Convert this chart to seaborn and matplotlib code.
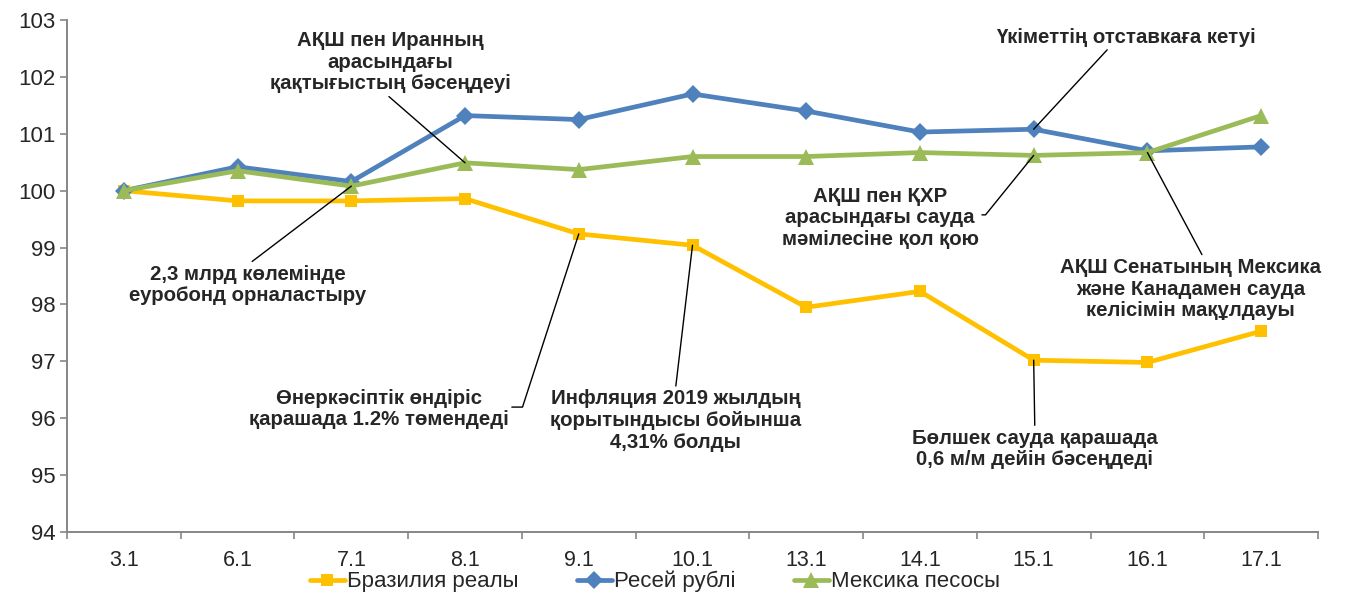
import numpy as np
import pandas as pd
import matplotlib
matplotlib.use("Agg")
import matplotlib.pyplot as plt
import seaborn as sns

dates = ["3.1", "6.1", "7.1", "8.1", "9.1", "10.1", "13.1", "14.1", "15.1", "16.1", "17.1"]
brazil = [100.0, 99.82, 99.82, 99.86, 99.24, 99.04, 97.95, 98.23, 97.02, 96.98, 97.53]
russia = [100.0, 100.42, 100.16, 101.32, 101.25, 101.70, 101.40, 101.03, 101.08, 100.70, 100.77]
mexico = [100.0, 100.35, 100.08, 100.49, 100.37, 100.60, 100.60, 100.67, 100.62, 100.67, 101.32]
series_names = ["Бразилия реалы", "Ресей рублі", "Мексика песосы"]
y_ticks = [94, 95, 96, 97, 98, 99, 100, 101, 102, 103]

colors = {"Бразилия реалы": "#FFC000", "Ресей рублі": "#4F81BD", "Мексика песосы": "#9BBB59"}
markers = {"Бразилия реалы": "s", "Ресей рублі": "D", "Мексика песосы": "^"}
msizes = {"Бразилия реалы": 9, "Ресей рублі": 9.5, "Мексика песосы": 12}

sns.set_theme(style="white")
plt.rcParams['font.family'] = ['Liberation Sans', 'DejaVu Sans']

rows = []
for name, vals in zip(series_names, [brazil, russia, mexico]):
    for i, v in enumerate(vals):
        rows.append({"idx": i, "value": v, "series": name})
df = pd.DataFrame(rows)

fig = plt.figure(figsize=(13.57, 5.94), dpi=100)
ax = fig.add_axes([67/1357, 1 - 532/594, (1318-67)/1357, (532-20)/594])

sns.lineplot(data=df, x="idx", y="value", hue="series", style="series",
             markers=markers, dashes=False, palette=colors, hue_order=series_names,
             style_order=series_names, linewidth=3.4, markersize=9, markeredgewidth=0,
             ax=ax, legend=True)

for line, name in zip(ax.lines[:3], series_names):
    line.set_markersize(msizes[name])

ax.set_xlim(-0.5, len(dates) - 0.5)
ax.set_ylim(94, 103)
ax.set_yticks(y_ticks)
ax.set_yticklabels([str(t) for t in y_ticks], fontsize=16)
ax.set_xticks(np.arange(-0.5, len(dates) + 0.5, 1.0))
ax.set_xticklabels([])
ax.set_xticks(np.arange(len(dates)), minor=True)
ax.set_xticklabels(dates, minor=True, fontsize=15.5)
ax.tick_params(axis="x", which="major", length=5, width=1.2, color="#868686", direction="out", bottom=True)
ax.tick_params(axis="x", which="minor", length=0, pad=13)
ax.tick_params(axis="y", length=5, width=1.2, color="#868686", direction="out", left=True, pad=3)
ax.set_xlabel("")
ax.set_ylabel("")
for s in ["top", "right"]:
    ax.spines[s].set_visible(False)
for s in ["left", "bottom"]:
    ax.spines[s].set_color("#868686")
    ax.spines[s].set_linewidth(1.4)

handles, labels = ax.get_legend_handles_labels()
for h, name in zip(handles, labels):
    h.set_markersize(msizes[name])
    h.set_linewidth(3.4)
leg = ax.legend(handles, labels, loc="center", bbox_to_anchor=(0.47, -0.097), ncol=3,
                frameon=False, fontsize=16, handlelength=1.6, handletextpad=0.1,
                columnspacing=2.6, borderaxespad=0)

fs = 14.7
lp = dict(arrowstyle="-", color="black", lw=1.0, shrinkA=0, shrinkB=0)

def note(text, xi, yv, tx, ty, relpos, conn="arc3"):
    ax.annotate(text, xy=(xi, yv), xytext=(tx, ty), textcoords="data",
                ha="center", va="center", fontsize=fs, fontweight="bold",
                linespacing=1.18,
                arrowprops=dict(lp, relpos=relpos, connectionstyle=conn))

note("АҚШ пен Иранның\nарасындағы\nқақтығыстың бәсеңдеуі", 3, mexico[3], 2.34, 102.26, (0.48, 0.0))
note("2,3 млрд көлемінде\nеуробонд орналастыру", 2, mexico[2], 1.09, 98.34, (0.5, 1.0))
note("Өнеркәсіптік өндіріс\nқарашада 1.2% төмендеді", 4, brazil[4], 2.24, 96.16, (1.0, 0.55),
     "angle,angleA=0,angleB=72,rad=0")
note("Инфляция 2019 жылдың\nқорытындысы бойынша\n4,31% болды", 5, brazil[5], 4.85, 95.96, (0.5, 1.0))
note("Үкіметтің отставкаға кетуі", 8, russia[8], 8.81, 102.70, (0.44, 0.0))
note("АҚШ пен ҚХР\nарасындағы сауда\nмәмілесіне қол қою", 8, mexico[8], 6.65, 99.52, (1.0, 0.55),
     "angle,angleA=0,angleB=51,rad=0")
note("АҚШ Сенатының Мексика\nжәне Канадамен сауда\nкелісімін мақұлдауы", 9, mexico[9], 9.38, 98.27, (0.55, 1.0))
note("Бөлшек сауда қарашада\n0,6 м/м дейін бәсеңдеді", 8, brazil[8], 8.01, 95.46, (0.5, 1.0))

fig.savefig("out.png", dpi=100)
